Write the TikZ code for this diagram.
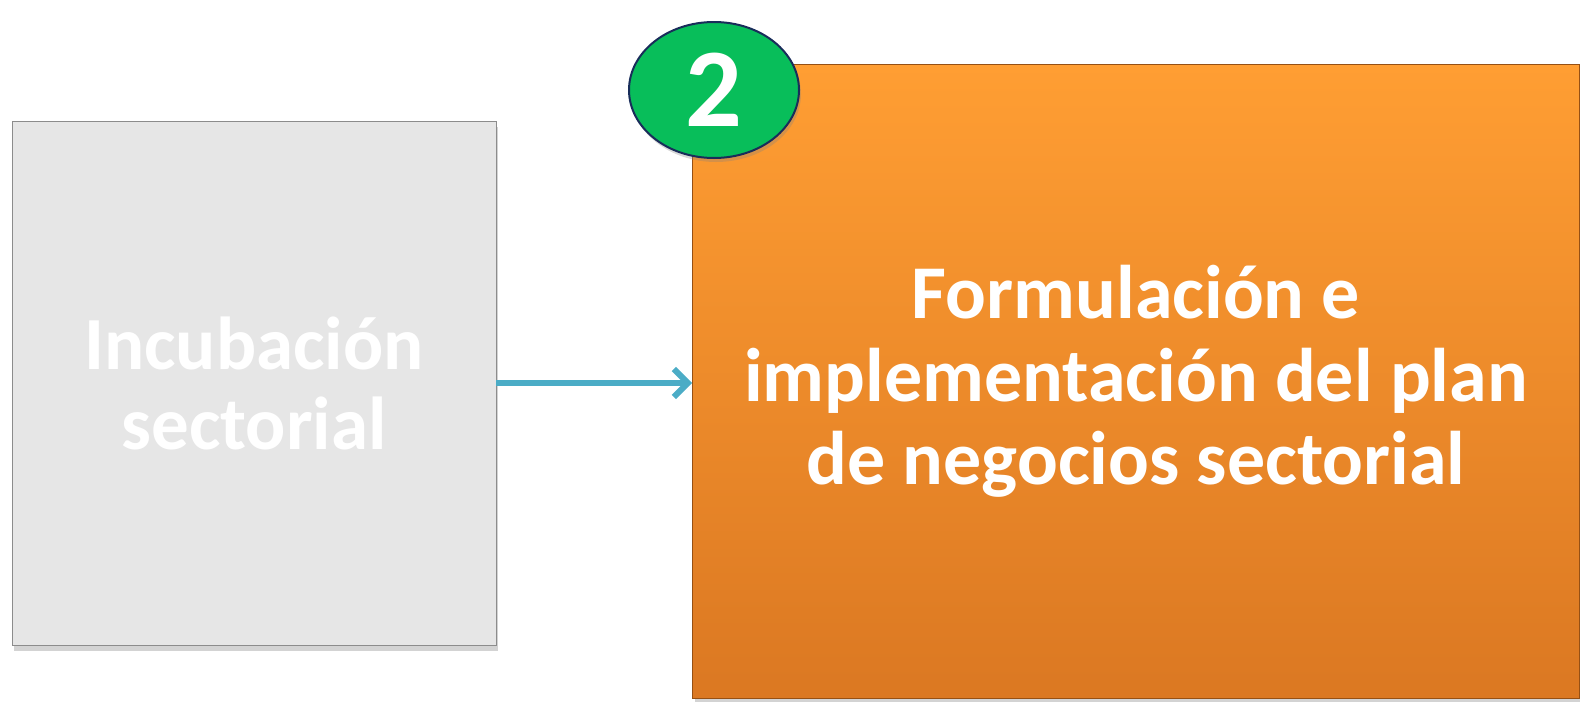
\documentclass[tikz,border=0pt]{standalone}
\usepackage{fontspec}
\setmainfont{Carlito}
\usepackage{tikz}
\usetikzlibrary{shapes,arrows,arrows.meta,positioning,shadows}
\definecolor{lgray}{RGB}{230, 230, 230}
\definecolor{dgray}{RGB}{140, 140, 140}
\definecolor{lorange}{RGB}{255, 158, 51}
\definecolor{dorange}{RGB}{219, 120, 34}
\definecolor{borange}{RGB}{150, 80, 20}
\definecolor{dgreen}{RGB}{8, 190, 90}
\definecolor{dnavy}{RGB}{25, 45, 90}
\definecolor{dskyblue}{RGB}{75, 172, 198}
\tikzstyle{stageblock} = [rectangle, draw=dgray, fill=lgray, text=white,
  minimum width=242pt, minimum height=262pt, align=center, font=\bfseries\fontsize{37.5}{40}\selectfont,
  drop shadow={shadow xshift=1pt, shadow yshift=-3pt, opacity=0.35}]
\tikzstyle{activeblock} = [rectangle, draw=borange, top color=lorange, bottom color=dorange, text=white,
  minimum width=443.5pt, minimum height=317pt, align=center, font=\bfseries\fontsize{38}{41.5}\selectfont,
  drop shadow={shadow xshift=1pt, shadow yshift=-2pt, opacity=0.35}]
\tikzstyle{badge} = [ellipse, draw=dnavy, line width=1pt, fill=dgreen, text=white, inner sep=0pt,
  minimum width=85pt, minimum height=68pt, font=\bfseries\fontsize{56}{60}\selectfont,
  drop shadow={shadow xshift=1pt, shadow yshift=-2pt, opacity=0.3}]
\tikzstyle{line} = [draw, line width=3pt, color=dskyblue, -{Straight Barb[length=7pt,width=14pt]}]

\begin{document}
\begin{tikzpicture}[x=0.5pt, y=-0.5pt]
  \useasboundingbox (0,0) rectangle (1580,702);
  \node [stageblock] (incub) at (254,383) {Incubación\\sectorial};
  \node [activeblock] (formul) at (1136,381) {Formulación e\\implementación del plan\\de negocios sectorial};
  \node [badge] (num) at (714,90) {2};
  \path [line] (incub.east) -- (incub.east -| formul.west);
\end{tikzpicture}
\end{document}
